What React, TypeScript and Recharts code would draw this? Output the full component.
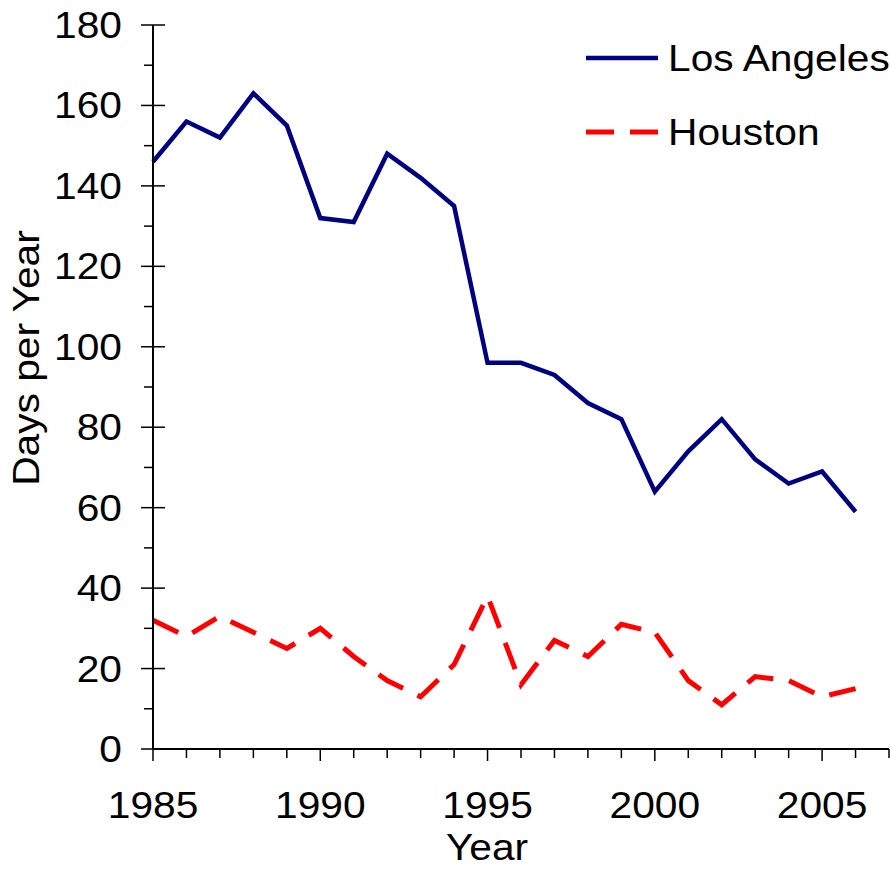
import { LineChart, Line, XAxis, YAxis } from "recharts";

const years = [
  1985, 1986, 1987, 1988, 1989, 1990, 1991, 1992, 1993, 1994, 1995, 1996,
  1997, 1998, 1999, 2000, 2001, 2002, 2003, 2004, 2005, 2006,
];
const losAngeles = [
  146, 156, 152, 163, 155, 132, 131, 148, 142, 135, 96, 96, 93, 86, 82, 64, 74,
  82, 72, 66, 69, 59,
];
const houston = [
  32, 28, 33, 29, 25, 30, 23, 17, 13, 21, 38, 16, 27, 23, 31, 29, 17, 11, 18,
  17, 13, 15,
];
const xTicks = [
  1985, 1986, 1987, 1988, 1989, 1990, 1991, 1992, 1993, 1994, 1995, 1996,
  1997, 1998, 1999, 2000, 2001, 2002, 2003, 2004, 2005, 2006, 2007,
];
const yTicks = [0, 10, 20, 30, 40, 50, 60, 70, 80, 90, 100, 110, 120, 130, 140, 150, 160, 170, 180];

const FONT = '"Liberation Sans", Arial, sans-serif';
const FS = 37;
const SX = 1.1; // the source text is a little wider than Arial

const series = [
  { key: "la", name: "Los Angeles", color: "#000080", dash: undefined, width: 4.5 },
  { key: "hou", name: "Houston", color: "#ff0000", dash: "28 16", width: 5 },
];

const data = years.map((y, i) => ({ year: y, la: losAngeles[i], hou: houston[i] }));

// text stretched horizontally around its anchor point
function WideText({ x, y, anchor, rotate, children }: any) {
  const rot = rotate ? ` rotate(${rotate})` : "";
  return (
    <g transform={`translate(${x},${y})${rot} scale(${SX},1)`}>
      <text x={0} y={0} textAnchor={anchor} fontSize={FS} fontFamily={FONT} fill="#000">
        {children}
      </text>
    </g>
  );
}

function XTick(props: any) {
  const { x, y, payload } = props;
  const major = payload.value % 5 === 0;
  return (
    <g>
      <line x1={x} x2={x} y1={y} y2={y + (major ? 12 : 9)} stroke="#000" strokeWidth={1.5} />
      {major && (
        <WideText x={x} y={y + 69} anchor="middle">
          {payload.value}
        </WideText>
      )}
    </g>
  );
}

function YTick(props: any) {
  const { x, y, payload } = props;
  const major = payload.value % 20 === 0;
  return (
    <g>
      <line x1={x - (major ? 12 : 9)} x2={major ? x + 12 : x} y1={y} y2={y} stroke="#000" strokeWidth={1.5} />
      {major && (
        <WideText x={x - 31} y={y + 13} anchor="end">
          {payload.value}
        </WideText>
      )}
    </g>
  );
}

function LegendBox() {
  return (
    <div
      style={{
        position: "absolute",
        left: 585,
        top: 21,
        fontFamily: FONT,
        fontSize: FS,
        color: "#000",
      }}
    >
      {series.map((s) => (
        <div key={s.key} style={{ display: "flex", alignItems: "center", height: 74 }}>
          <svg width={83} height={20}>
            <line
              x1={1}
              x2={73}
              y1={10}
              y2={10}
              stroke={s.color}
              strokeWidth={s.width}
              strokeDasharray={s.dash}
            />
          </svg>
          <span
            style={{
              lineHeight: 1,
              display: "inline-block",
              transform: `scaleX(${SX})`,
              transformOrigin: "left center",
              whiteSpace: "nowrap",
            }}
          >
            {s.name}
          </span>
        </div>
      ))}
    </div>
  );
}

export default function App() {
  return (
    <div style={{ position: "absolute", left: 0, top: 0, width: 890, height: 871, background: "#fff" }}>
      <LineChart
        width={890}
        height={871}
        data={data}
        margin={{ top: 25, right: 1, bottom: 62, left: 53 }}
      >
        <XAxis
          dataKey="year"
          type="number"
          domain={[1985, 2007]}
          ticks={xTicks}
          interval={0}
          tickSize={0}
          tickMargin={0}
          tickLine={false}
          tick={<XTick />}
          axisLine={{ stroke: "#000", strokeWidth: 2 }}
          height={60}
          label={{
            content: (p: any) => {
              const vb = p.viewBox;
              return (
                <WideText x={vb.x + vb.width / 2 - 34} y={vb.y + 111} anchor="middle">
                  Year
                </WideText>
              );
            },
          }}
        />
        <YAxis
          type="number"
          domain={[0, 180]}
          ticks={yTicks}
          interval={0}
          tickSize={0}
          tickMargin={0}
          tickLine={false}
          tick={<YTick />}
          axisLine={{ stroke: "#000", strokeWidth: 2 }}
          width={100}
          label={{
            content: (p: any) => {
              const vb = p.viewBox;
              return (
                <WideText x={vb.x - 14} y={vb.y + vb.height / 2 - 29} anchor="middle" rotate={-90}>
                  Days per Year
                </WideText>
              );
            },
          }}
        />
        {series.map((s) => (
          <Line
            key={s.key}
            type="linear"
            dataKey={s.key}
            name={s.name}
            stroke={s.color}
            strokeWidth={s.width}
            strokeDasharray={s.dash}
            dot={false}
            activeDot={false}
            isAnimationActive={false}
          />
        ))}
      </LineChart>
      <LegendBox />
    </div>
  );
}
